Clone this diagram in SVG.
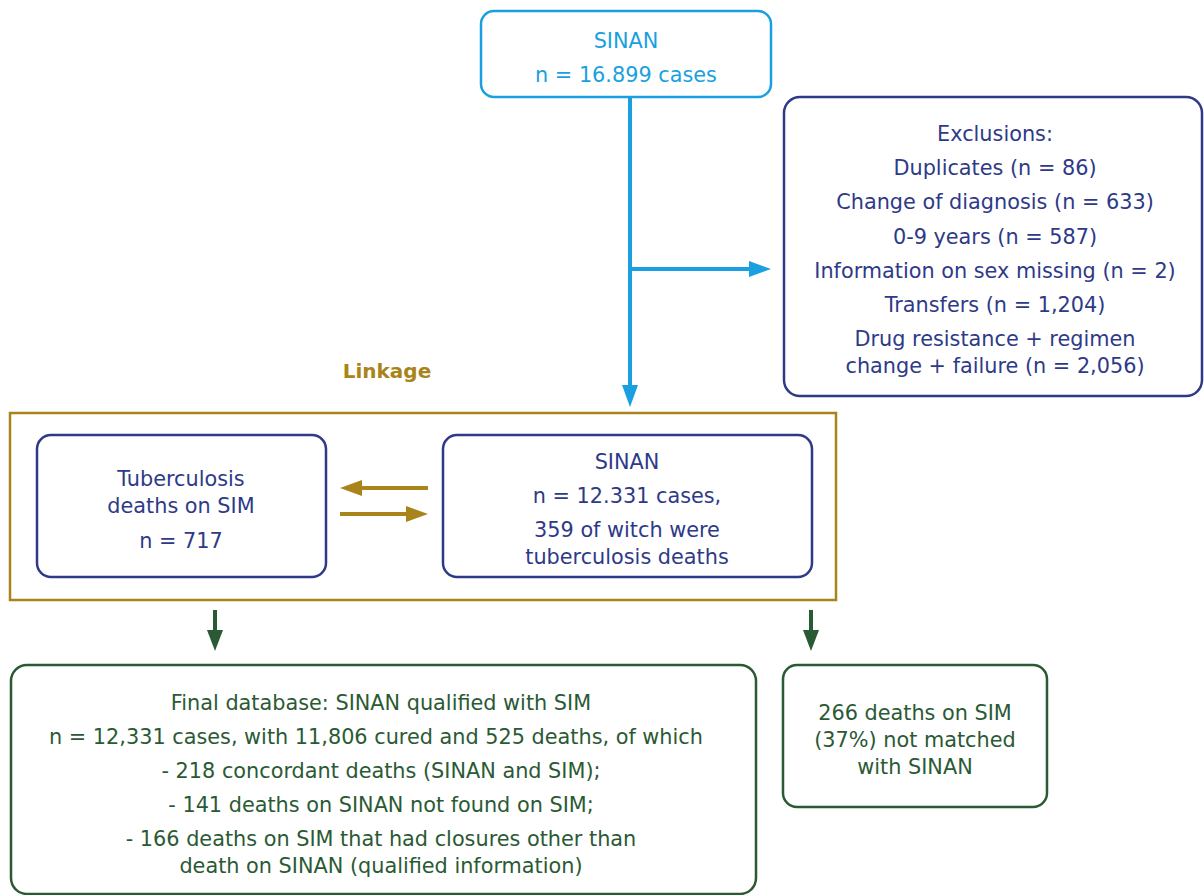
<svg xmlns="http://www.w3.org/2000/svg" width="1204" height="895" viewBox="0 0 1204 895">
<style>
text{font-family:"DejaVu Sans","Liberation Sans",sans-serif;font-size:20.8px;text-anchor:middle}
.blue{fill:#1a9fe0}.navy{fill:#2e3a87}.green{fill:#2a5a34}.gold{fill:#a8841a}
.box{fill:#fff;stroke-width:2.5}
</style>
<rect width="1204" height="895" fill="#fff"/>
<g id="connectors">
<line x1="630" y1="97" x2="630" y2="385" stroke="#1a9fe0" stroke-width="4"/>
<polygon points="622,385 638,385 630,407" fill="#1a9fe0"/>
<line x1="630" y1="269" x2="750" y2="269" stroke="#1a9fe0" stroke-width="4"/>
<polygon points="749,261 749,277 771,269" fill="#1a9fe0"/>
<line x1="428" y1="488" x2="360" y2="488" stroke="#a8841a" stroke-width="4"/>
<polygon points="362,480 362,496 340,488" fill="#a8841a"/>
<line x1="340" y1="514" x2="407" y2="514" stroke="#a8841a" stroke-width="4"/>
<polygon points="406,506 406,522 428,514" fill="#a8841a"/>
<line x1="215" y1="610" x2="215" y2="632" stroke="#2a5a34" stroke-width="4"/>
<polygon points="207,630 223,630 215,651" fill="#2a5a34"/>
<line x1="811" y1="610" x2="811" y2="632" stroke="#2a5a34" stroke-width="4"/>
<polygon points="803,630 819,630 811,651" fill="#2a5a34"/>
</g>
<g id="sinan-top">
<rect class="box" x="481" y="11" width="290" height="86" rx="13" stroke="#1a9fe0"/>
<text class="blue" x="626" y="48">SINAN</text>
<text class="blue" x="626" y="82">n = 16.899 cases</text>
</g>
<g id="exclusions">
<rect class="box" x="784" y="97" width="418" height="299" rx="16" stroke="#2e3a87"/>
<text class="navy" x="995" y="141">Exclusions:</text>
<text class="navy" x="995" y="175">Duplicates (n = 86)</text>
<text class="navy" x="995" y="209">Change of diagnosis (n = 633)</text>
<text class="navy" x="995" y="244">0-9 years (n = 587)</text>
<text class="navy" x="995" y="278">Information on sex missing (n = 2)</text>
<text class="navy" x="995" y="312">Transfers (n = 1,204)</text>
<text class="navy" x="995" y="346">Drug resistance + regimen</text>
<text class="navy" x="995" y="373">change + failure (n = 2,056)</text>
</g>
<g id="linkage">
<text class="gold" x="387" y="378" style="font-weight:bold;font-size:20px">Linkage</text>
<rect x="10" y="413" width="826" height="187" fill="none" stroke="#a8841a" stroke-width="2.5"/>
</g>
<g id="tb-deaths-sim">
<rect class="box" x="37" y="435" width="289" height="142" rx="14" stroke="#2e3a87"/>
<text class="navy" x="181" y="486">Tuberculosis</text>
<text class="navy" x="181" y="513">deaths on SIM</text>
<text class="navy" x="181" y="548">n = 717</text>
</g>
<g id="sinan-linked">
<rect class="box" x="443" y="435" width="369" height="142" rx="14" stroke="#2e3a87"/>
<text class="navy" x="627" y="469">SINAN</text>
<text class="navy" x="627" y="503">n = 12.331 cases,</text>
<text class="navy" x="627" y="537">359 of witch were</text>
<text class="navy" x="627" y="564">tuberculosis deaths</text>
</g>
<g id="final-database">
<rect class="box" x="11" y="665" width="745" height="229" rx="16" stroke="#2a5a34"/>
<text class="green" x="381" y="710">Final database: SINAN qualified with SIM</text>
<text class="green" x="376" y="744">n = 12,331 cases, with 11,806 cured and 525 deaths, of which</text>
<text class="green" x="381" y="778">- 218 concordant deaths (SINAN and SIM);</text>
<text class="green" x="381" y="812">- 141 deaths on SINAN not found on SIM;</text>
<text class="green" x="381" y="846">- 166 deaths on SIM that had closures other than</text>
<text class="green" x="381" y="873">death on SINAN (qualified information)</text>
</g>
<g id="unmatched">
<rect class="box" x="783" y="665" width="264" height="142" rx="14" stroke="#2a5a34"/>
<text class="green" x="915" y="720">266 deaths on SIM</text>
<text class="green" x="915" y="747">(37%) not matched</text>
<text class="green" x="915" y="774">with SINAN</text>
</g>
</svg>
